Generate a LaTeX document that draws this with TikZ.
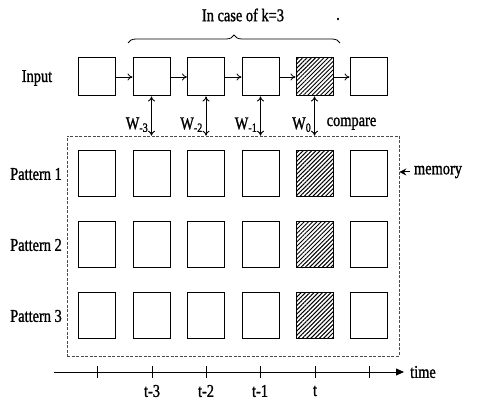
\documentclass[tikz,border=0pt]{standalone}
\usepackage{fontspec}
\setmainfont{Liberation Serif}[FakeStretch=0.8,FakeBold=1.2]
\usetikzlibrary{arrows.meta,patterns.meta,decorations.pathreplacing}
\begin{document}
\begin{tikzpicture}[x=1pt,y=-1pt,
  font=\fontsize{18}{20}\selectfont,
  cell/.style={draw,line width=1pt,minimum width=37pt,inner sep=0pt},
  inbox/.style={cell,minimum height=38pt},
  membox/.style={cell,minimum height=46pt},
  hatched/.style={pattern={Lines[angle=45,distance=3pt,line width=1pt]}},
  flow/.style={-{To[length=5pt,width=7pt]},line width=0.8pt},
  link/.style={{To[length=5pt,width=7pt]}-{To[length=5pt,width=7pt]},line width=0.9pt},
  lbl/.style={inner sep=0pt}]
\useasboundingbox (0,0) rectangle (480,403);

% memory region
\node[draw=black!70,dashed,dash pattern=on 3pt off 1.5pt,line width=0.6pt,
      minimum width=332pt,minimum height=220pt,inner sep=0pt] (mem) at (233,246) {};

% input sequence
\foreach \i/\x in {0/97,1/151.5,2/206,3/260.5,4/314.5,5/368.5}
  \node[inbox] (in\i) at (\x,77) {};
\node[inbox,hatched] at (in4) {};
\foreach \a/\b in {0/1,1/2,2/3,3/4,4/5}
  \draw[flow] (in\a.east) -- (in\b.west);
\node[lbl] (linput) at (37,78) {Input};

% stored patterns
\foreach \r/\y in {1/174,2/245,3/316}{
  \foreach \i/\x in {0/97,1/151.5,2/206,3/260.5,4/314.5,5/368.5}
    \node[membox] (m\r\i) at (\x,\y) {};
  \node[membox,hatched] at (m\r4) {};
  \node[lbl] (lp\r) at (36,\y) {Pattern \r};
}

% weights between input and memory
\foreach \i/\w in {1/-3,2/-2,3/-1,4/0}{
  \coordinate (c\i) at (in\i.south |- mem.north);
  \draw[link] (in\i.south) -- (c\i);
  \node[lbl,anchor=east] (w\i) at ([xshift=-3pt,yshift=11pt]c\i) {W\textsubscript{\w}};
}
\node[lbl,anchor=west] (lcmp) at ([xshift=12pt,yshift=12pt]c4) {compare};

% memory label
\node[lbl] (lmem) at (438,172) {memory};
\draw[-{Stealth[length=7pt,width=7pt]},line width=1pt] ([xshift=-4pt]lmem.west) -- (mem.east |- lmem);

% window of k steps
\draw[decorate,decoration={brace,amplitude=8pt},line width=0.8pt] (128,43) -- (340,43);
\node[lbl] (lk) at (243,15) {In case of k=3};
\node[lbl] (ldot) at (338,19) {.};

% time axis
\coordinate (ta) at (54,372);
\coordinate (tb) at (404,372);
\draw[-{Triangle[length=8pt,width=7pt]},line width=0.8pt] (ta) -- (tb);
\foreach \x/\t in {97/,152/t-3,206/t-2,260/t-1,315/t,369/}{
  \draw[line width=0.9pt] (\x,366) -- (\x,378);
  \node[lbl] at (\x,391) {\t};
}
\node[lbl,anchor=west] (ltime) at ([xshift=6pt]tb) {time};
\end{tikzpicture}
\end{document}
